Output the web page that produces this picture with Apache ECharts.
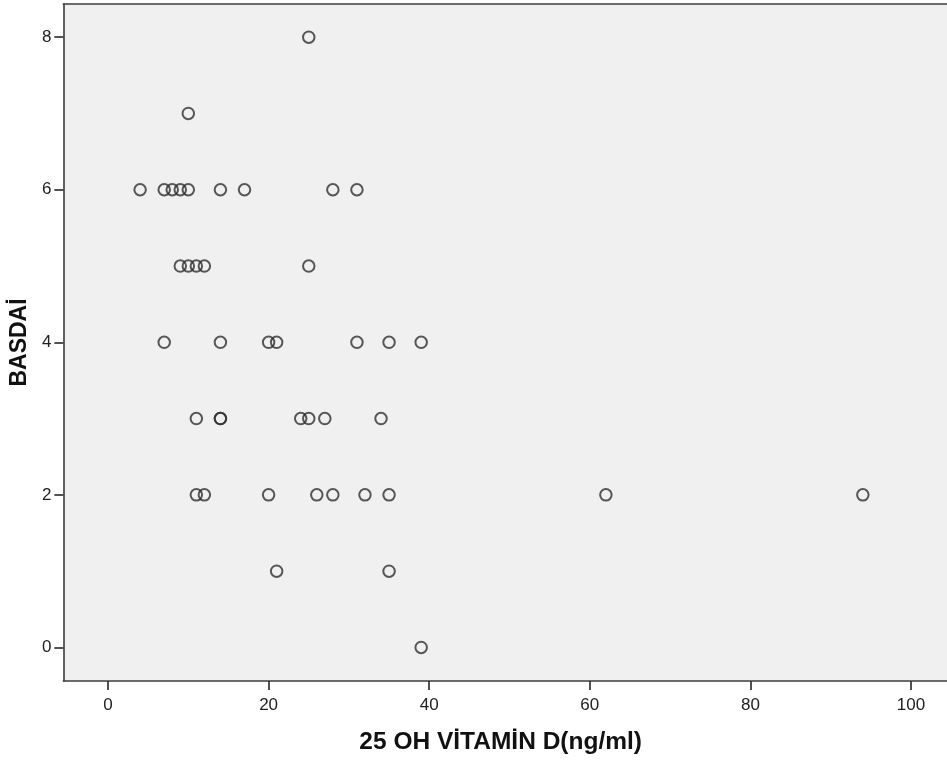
<!DOCTYPE html>
<html>
<head>
<meta charset="utf-8">
<script src="https://cdn.jsdelivr.net/npm/echarts@6/dist/echarts.min.js"></script>
<style>
  html, body { margin: 0; padding: 0; background: #ffffff; }
  #chart { width: 947px; height: 760px; }
</style>
</head>
<body>
<div id="chart"></div>
<script>
// 25 OH vitamin D (ng/ml) against BASDAI score, one entry per patient
const vitaminD = [
  25,
  10,
  4, 7, 8, 9, 10, 14, 17, 28, 31,
  9, 10, 11, 12, 25,
  7, 14, 20, 21, 31, 35, 39,
  11, 14, 14, 24, 25, 27, 34,
  11, 12, 20, 26, 28, 32, 35, 62, 94,
  21, 35,
  39
];
const basdai = [
  8,
  7,
  6, 6, 6, 6, 6, 6, 6, 6, 6,
  5, 5, 5, 5, 5,
  4, 4, 4, 4, 4, 4, 4,
  3, 3, 3, 3, 3, 3, 3,
  2, 2, 2, 2, 2, 2, 2, 2, 2,
  1, 1,
  0
];
const xTicks = [0, 20, 40, 60, 80, 100];
const yTicks = [0, 2, 4, 6, 8];

const points = vitaminD.map((v, i) => [v, basdai[i]]);

const chart = echarts.init(document.getElementById('chart'), null, { renderer: 'canvas' });

const frameColor = '#3c3c3c';
const labelStyle = {
  color: '#222222',
  fontFamily: 'Liberation Sans, Arial, sans-serif',
  fontSize: 17
};
const titleStyle = {
  color: '#111111',
  fontFamily: 'Liberation Sans, Arial, sans-serif',
  fontWeight: 'bold'
};
const tickStyle = { color: '#262626', width: 1.6 };

chart.setOption({
  animation: false,
  backgroundColor: '#ffffff',
  grid: {
    left: 63,
    top: 4,
    right: 0,
    bottom: 77,
    show: true,
    backgroundColor: '#f0f0f0',
    borderWidth: 0
  },
  xAxis: [{
    type: 'value',
    position: 'bottom',
    min: -5.56,
    max: 104.48,
    name: '25 OH VİTAMİN D(ng/ml)',
    nameLocation: 'middle',
    nameGap: 49,
    nameTextStyle: Object.assign({ fontSize: 24.5, padding: [0, 9, 0, 0] }, titleStyle),
    axisLine: { show: true, onZero: false, lineStyle: { color: frameColor, width: 1.6 } },
    splitLine: { show: false },
    axisTick: {
      show: true,
      length: 9,
      customValues: xTicks,
      lineStyle: tickStyle
    },
    axisLabel: Object.assign({
      margin: 16,
      customValues: xTicks
    }, labelStyle)
  }, {
    // top edge of the plot frame
    type: 'value',
    position: 'top',
    min: -5.56,
    max: 104.48,
    axisLine: { show: true, onZero: false, lineStyle: { color: frameColor, width: 1.6 } },
    axisTick: { show: false },
    axisLabel: { show: false },
    splitLine: { show: false }
  }],
  yAxis: {
    type: 'value',
    min: -0.44,
    max: 8.435,
    name: 'BASDAİ',
    nameLocation: 'middle',
    nameGap: 24,
    nameTextStyle: Object.assign({ fontSize: 23 }, titleStyle),
    axisLine: { show: true, onZero: false, lineStyle: { color: frameColor, width: 1.6 } },
    splitLine: { show: false },
    axisTick: {
      show: true,
      length: 9,
      customValues: yTicks,
      lineStyle: tickStyle
    },
    axisLabel: Object.assign({
      margin: 12,
      customValues: yTicks
    }, labelStyle)
  },
  series: [{
    type: 'scatter',
    xAxisIndex: 0,
    data: points,
    symbol: 'circle',
    symbolSize: 11.5,
    itemStyle: {
      color: 'rgba(0,0,0,0)',
      borderColor: '#303030',
      borderWidth: 2
    }
  }]
});
</script>
</body>
</html>
